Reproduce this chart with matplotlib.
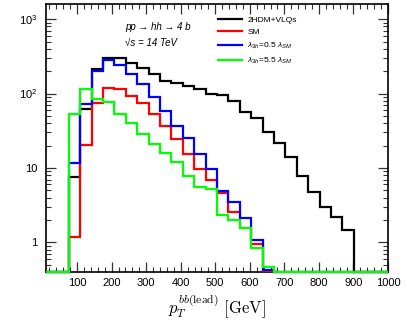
import matplotlib

matplotlib.use("Agg")
import matplotlib.pyplot as plt
import numpy as np
from matplotlib.ticker import FixedLocator, LogLocator, MultipleLocator, NullFormatter

plt.rcParams["font.family"] = ["Liberation Sans", "DejaVu Sans"]
plt.rcParams["mathtext.fontset"] = "custom"
plt.rcParams["mathtext.rm"] = "Liberation Sans"
plt.rcParams["mathtext.it"] = "Liberation Sans:italic"
plt.rcParams["mathtext.cal"] = "Liberation Sans"

# histogram binning: 30 bins of 33 GeV from 10 to 1000
bin_edges = np.arange(10, 1001, 33)

# per-bin contents (0 = empty bin)
vlq = [0, 0, 7.6, 63, 211, 303, 303, 254, 218, 183, 147, 137, 126, 114, 100,
       95, 80, 57, 46.5, 30.7, 21.7, 14, 7.8, 4.7, 3.0, 2.2, 1.47, 0, 0, 0]
sm = [0, 0, 1.2, 20.4, 75, 120, 116, 93, 74, 53, 36.6, 24.3, 15.4, 9.8, 6.9,
      4.6, 2.6, 1.58, 0.95, 0.41, 0, 0, 0, 0, 0, 0, 0, 0, 0, 0]
lam05 = [0, 0, 11.8, 72, 200, 282, 241, 185, 135, 89, 58, 36.6, 25, 15.4, 9.8,
         4.95, 3.5, 2.1, 1.07, 0.43, 0, 0, 0, 0, 0, 0, 0, 0, 0, 0]
lam55 = [0, 0, 53, 114, 84, 78, 53, 40, 28.5, 21, 15.7, 11.9, 7.9, 5.6, 5.2,
         2.3, 2.0, 1.55, 0.84, 0.46, 0, 0, 0, 0, 0, 0, 0, 0, 0, 0]

series = [
    (vlq, "black", "2HDM+VLQs"),
    (sm, "#ff0000", "SM"),
    (lam05, "#0000ff", r"$\lambda_{3h}$=0.5 $\lambda_{SM}$"),
    (lam55, "#00ff00", r"$\lambda_{3h}$=5.5 $\lambda_{SM}$"),
]

y_min, y_max = 0.4, 1600

fig = plt.figure(figsize=(4.07, 3.22), dpi=100)
ax = fig.add_axes([46 / 407, 1 - 272 / 322, 342 / 407, 268 / 322])

for values, color, label in series:
    # empty bins sit on the lower frame, as in the original plot
    shown = np.clip(np.asarray(values, dtype=float), y_min, None)
    ax.stairs(shown, bin_edges, baseline=None, color=color, lw=1.6,
              label=label, clip_on=False, zorder=3)

ax.set_xlim(10, 1000)
ax.set_yscale("log")
ax.set_ylim(y_min, y_max)

ax.xaxis.set_major_locator(MultipleLocator(100))
ax.xaxis.set_minor_locator(MultipleLocator(20))
ax.yaxis.set_major_locator(FixedLocator([1, 10, 100, 1000]))
ax.set_yticklabels(["1", "10", r"$10^2$", r"$10^3$"])
ax.yaxis.set_minor_locator(LogLocator(base=10, subs=np.arange(2, 10)))
ax.yaxis.set_minor_formatter(NullFormatter())

ax.tick_params(which="both", direction="in", top=True, right=True,
               labelsize=8, color="#333333")
ax.tick_params(which="major", length=7, width=0.9)
ax.tick_params(which="minor", length=3.5, width=0.8)
ax.tick_params(axis="y", pad=6)
ax.tick_params(axis="x", pad=4)
for spine in ax.spines.values():
    spine.set_linewidth(1.2)

ax.set_xlabel(r"$p_T^{bb(\mathrm{lead})}\ [\mathrm{GeV}]$", fontsize=12,
              math_fontfamily="cm", labelpad=4)

fig.text(125 / 407, 1 - 27 / 322, "pp → hh → 4 b", style="italic",
         fontsize=7, va="center")
fig.text(125 / 407, 1 - 43 / 322, "√s = 14 TeV", style="italic",
         fontsize=7, va="center")

ax.legend(loc="upper left", bbox_to_anchor=(218 / 407, 1 - 16 / 322),
          bbox_transform=fig.transFigure, frameon=False, fontsize=6,
          handlelength=2.9, handletextpad=0.6, labelspacing=0.55,
          borderpad=0, borderaxespad=0)

fig.savefig("out.png", dpi=100)
